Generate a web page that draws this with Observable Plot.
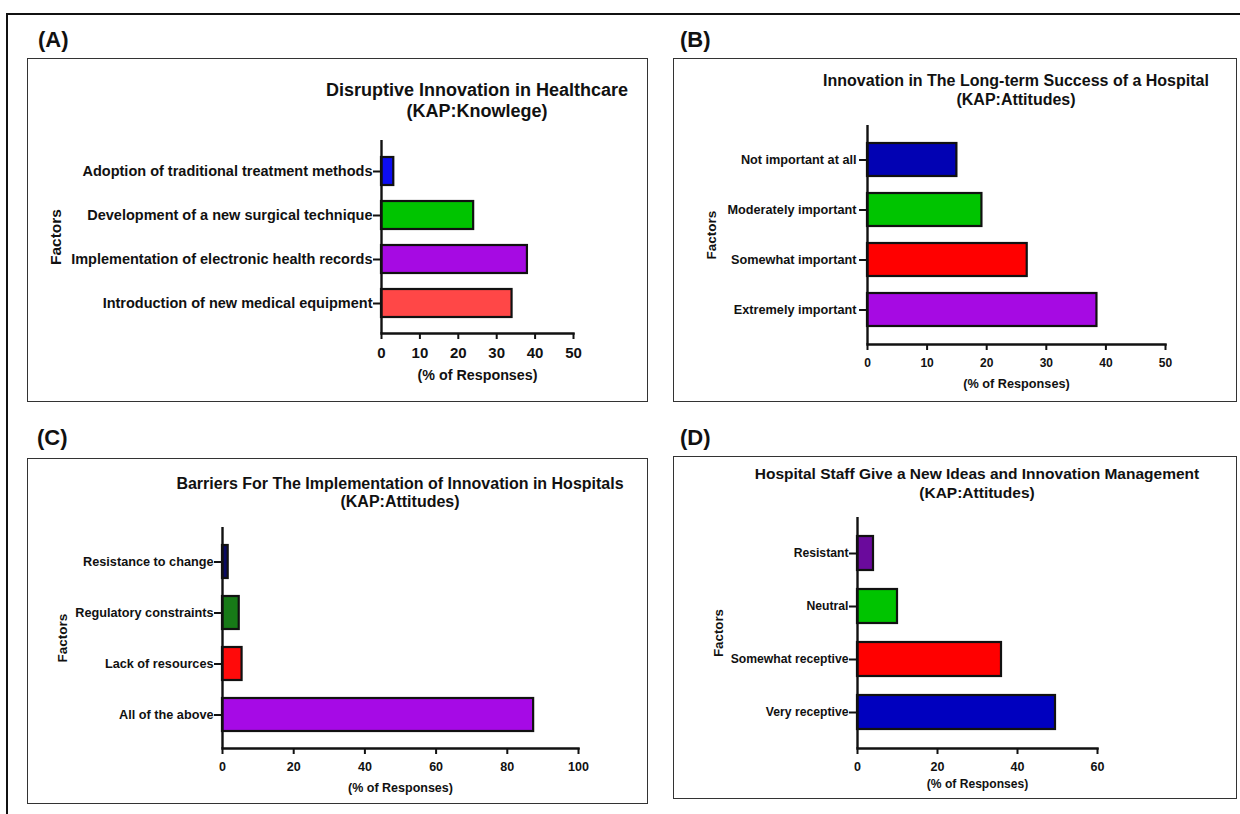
<!DOCTYPE html>
<html><head><meta charset="utf-8">
<script src="https://cdn.jsdelivr.net/npm/d3@7"></script>
<script src="https://cdn.jsdelivr.net/npm/@observablehq/plot@0.6"></script>
<style>
html,body{margin:0;padding:0;background:#fff;}
#page{position:relative;width:1240px;height:814px;overflow:hidden;font-family:"Liberation Sans",Arial,Helvetica,sans-serif;color:#111;}
.outer{position:absolute;left:6px;top:13px;width:1400px;height:1000px;border-top:2px solid #111;border-left:2px solid #111;}
.box{position:absolute;border:1.5px solid #333;box-sizing:border-box;}
.lab{position:absolute;font-weight:bold;font-size:22px;line-height:26px;white-space:nowrap;}
.title{position:absolute;font-weight:bold;text-align:center;white-space:nowrap;width:700px;}
.chart{position:absolute;}
</style></head><body><div id="page"><div class="outer"></div></div>
<script>
// ---------- data ----------
const factorsA = ["Adoption of traditional treatment methods", "Development of a new surgical technique", "Implementation of electronic health records", "Introduction of new medical equipment"];
const valuesA = [3.2, 24, 38, 34];
const ticksA = [0, 10, 20, 30, 40, 50];
const titleA = ["Disruptive Innovation in Healthcare", "(KAP:Knowlege)"];

const factorsB = ["Not important at all", "Moderately important", "Somewhat important", "Extremely important"];
const valuesB = [15, 19.2, 26.8, 38.5];
const ticksB = [0, 10, 20, 30, 40, 50];
const titleB = ["Innovation in The Long-term Success of a Hospital", "(KAP:Attitudes)"];

const factorsC = ["Resistance to change", "Regulatory constraints", "Lack of resources", "All of the above"];
const valuesC = [1.6, 4.7, 5.5, 87.4];
const ticksC = [0, 20, 40, 60, 80, 100];
const titleC = ["Barriers For The Implementation of Innovation in Hospitals", "(KAP:Attitudes)"];

const factorsD = ["Resistant", "Neutral", "Somewhat receptive", "Very receptive"];
const valuesD = [4, 10, 36, 49.5];
const ticksD = [0, 20, 40, 60];
const titleD = ["Hospital Staff Give a New Ideas and Innovation Management", "(KAP:Attitudes)"];

const panelLabels = ["(A)", "(B)", "(C)", "(D)"];
const xLabel = "(% of Responses)";
const yLabel = "Factors";

// ---------- styles ----------
const paletteA = ["#0d0df2", "#00c400", "#a60ae3", "#ff4747"];
const paletteB = ["#0202b3", "#00c400", "#ff0000", "#a60ae3"];
const paletteC = ["#0b0b62", "#177a17", "#ff0a0a", "#a60ae6"];
const paletteD = ["#6a0a9c", "#00c400", "#ff0000", "#0000bf"];
const FONT = '"Liberation Sans", Arial, Helvetica, sans-serif';

const panels = [
  {factors: factorsA, values: valuesA, ticks: ticksA, title: titleA, palette: paletteA, label: panelLabels[0],
   box: [27, 58, 621, 344], m: [82, 75, 69, 354], pad: [0.364, 0.375], labPos: [38, 27],
   f: {title: 18, cat: 14.5, tick: 15, axis: 14.3, fac: 15.5}, titleY: [90, 111], yPad: 1, xDy: 42, facDx: -325},
  {factors: factorsB, values: valuesB, ticks: ticksB, title: titleB, palette: paletteB, label: panelLabels[1],
   box: [673, 58, 564, 344], m: [67, 72, 58, 194], pad: [0.34, 0.36], labPos: [680, 27],
   f: {title: 16, cat: 12.7, tick: 12, axis: 12.7, fac: 13.5}, titleY: [80, 99], yPad: 3, xDy: 39, facDx: -156},
  {factors: factorsC, values: valuesC, ticks: ticksC, title: titleC, palette: paletteC, label: panelLabels[2],
   box: [27, 458, 621, 346], m: [69, 70, 56, 195], pad: [0.353, 0.343], labPos: [37, 425],
   f: {title: 16, cat: 12.7, tick: 12.5, axis: 12.5, fac: 13.5}, titleY: [484, 502], yPad: 1, xDy: 39, facDx: -160},
  {factors: factorsD, values: valuesD, ticks: ticksD, title: titleD, palette: paletteD, label: panelLabels[3],
   box: [673, 456, 564, 343], m: [61, 140, 51, 184], pad: [0.36, 0.347], labPos: [680, 425],
   f: {title: 15.5, cat: 12.2, tick: 12.5, axis: 12.1, fac: 13.3}, titleY: [473, 492], yPad: 1, xDy: 36, facDx: -139}
];

const page = document.getElementById("page");

for (const p of panels) {
  const [bx, by, bw, bh] = p.box;
  const [mt, mr, mb, ml] = p.m;

  const box = document.createElement("div");
  box.className = "box";
  Object.assign(box.style, {left: bx + "px", top: by + "px", width: bw + "px", height: bh + "px"});
  page.appendChild(box);

  const lab = document.createElement("div");
  lab.className = "lab";
  lab.textContent = p.label;
  Object.assign(lab.style, {left: p.labPos[0] + "px", top: p.labPos[1] + "px"});
  page.appendChild(lab);

  const cx = bx + ml + (bw - ml - mr) / 2;
  const lh = p.titleY[1] - p.titleY[0];
  const t = document.createElement("div");
  t.className = "title";
  Object.assign(t.style, {left: (cx - 350) + "px", top: (p.titleY[0] - lh / 2) + "px", fontSize: p.f.title + "px", lineHeight: lh + "px"});
  t.innerHTML = p.title.map(s => `<div>${s}</div>`).join("");
  page.appendChild(t);

  const data = p.factors.map((factor, i) => ({factor, value: p.values[i], color: p.palette[i]}));

  const chart = Plot.plot({
    width: bw, height: bh,
    marginTop: mt, marginRight: mr, marginBottom: mb, marginLeft: ml,
    style: {fontFamily: FONT, background: "transparent", overflow: "visible", color: "#111"},
    x: {domain: [p.ticks[0], p.ticks[p.ticks.length - 1]]},
    y: {domain: p.factors, paddingInner: p.pad[0], paddingOuter: p.pad[1], align: 0.5},
    color: {type: "identity"},
    marks: [
      Plot.barX(data, {x: "value", y: "factor", fill: "color", stroke: "#111", strokeWidth: 2.2}),
      Plot.ruleX([0], {stroke: "#111", strokeWidth: 2.4}),
      Plot.frame({anchor: "bottom", stroke: "#111", strokeWidth: 2.4}),
      Plot.axisX({ticks: p.ticks, tickSize: 6, tickPadding: 7.5, fontSize: p.f.tick, fontWeight: "bold", label: null, strokeWidth: 2, tickFormat: d => String(d)}),
      Plot.axisY({tickSize: 8, tickPadding: p.yPad, fontSize: p.f.cat, fontWeight: "bold", label: null, strokeWidth: 2}),
      Plot.text([xLabel], {text: d => d, frameAnchor: "bottom", dy: p.xDy, fontSize: p.f.axis, fontWeight: "bold", lineAnchor: "middle", textAnchor: "middle"}),
      Plot.text([yLabel], {text: d => d, frameAnchor: "left", dx: p.facDx, rotate: -90, fontSize: p.f.fac, fontWeight: "bold", lineAnchor: "middle", textAnchor: "middle"})
    ]
  });
  chart.classList.add("chart");
  chart.style.left = bx + "px";
  chart.style.top = by + "px";
  page.appendChild(chart);
}
</script></body></html>
